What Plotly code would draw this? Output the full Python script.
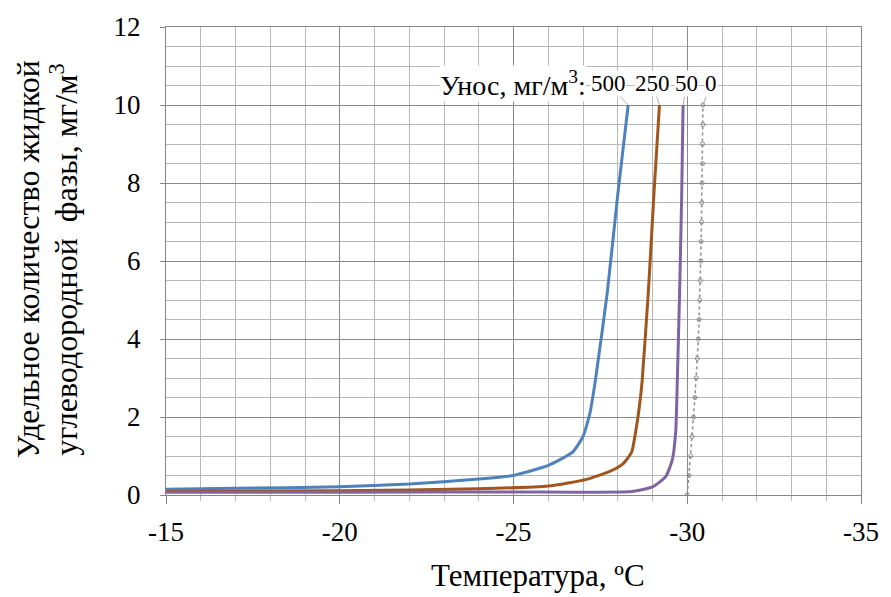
import plotly.graph_objects as go

# Temperature (°C) / specific amount of liquid hydrocarbon phase (mg/m3)
x500 = [-15, -17, -20, -22, -24, -25, -26, -26.7, -27.0, -27.2, -27.35, -27.7, -28.0, -28.3]
y500 = [0.15, 0.17, 0.21, 0.28, 0.41, 0.5, 0.76, 1.1, 1.5, 2.1, 2.9, 5.2, 7.7, 10]

x250 = [-15, -20, -24, -26, -27.1, -27.75, -28.15, -28.4, -28.52, -28.62, -28.7, -28.88, -29.04, -29.2]
y250 = [0.09, 0.11, 0.16, 0.23, 0.4, 0.6, 0.8, 1.1, 1.65, 2.25, 2.9, 5.2, 7.7, 10]

x50 = [-15, -20, -25, -28.4, -29.0, -29.38, -29.57, -29.67, -29.71, -29.78, -29.84, -29.88]
y50 = [0.07, 0.07, 0.08, 0.09, 0.21, 0.47, 0.9, 1.65, 2.8, 5.2, 7.7, 10]

x0 = [-30.0, -30.05, -30.1, -30.14, -30.18, -30.22, -30.26, -30.29, -30.32, -30.34, -30.36,
      -30.38, -30.39, -30.4, -30.41, -30.42, -30.43, -30.44, -30.44, -30.45, -30.45]
y0 = [0, 0.5, 1, 1.5, 2, 2.5, 3, 3.5, 4, 4.5, 5, 5.5, 6, 6.5, 7, 7.5, 8, 8.5, 9, 9.5, 10]

x_ticks = [-15, -20, -25, -30, -35]
x_ticktext = ["-15", "-20", "-25", "-30", "-35"]
y_ticks = [0, 2, 4, 6, 8, 10, 12]

series = [
    ("500", x500, y500, "#4F81BD"),
    ("250", x250, y250, "#A0561C"),
    ("50", x50, y50, "#8064A2"),
]
label_x = {"500": -27.72, "250": -29.0, "50": -29.98, "0": -30.69}
label_y = 10.55

FONT = "Times New Roman, Liberation Serif, Tinos, DejaVu Serif, serif"

fig = go.Figure()
for name, xs, ys, col in series:
    fig.add_trace(go.Scatter(x=xs, y=ys, mode="lines", name=name,
                             line=dict(color=col, width=3, shape="spline", smoothing=0.5)))
fig.add_trace(go.Scatter(x=x0, y=y0, mode="lines+markers", name="0",
                         line=dict(color="#8C8C8C", width=1.5, dash="dot"),
                         marker=dict(symbol="circle-open", size=4, color="#8C8C8C",
                                     line=dict(width=1))))

annotations = [
    dict(x=-24.98, y=label_y, xref="x", yref="y", text="Унос, мг/м<sup>3</sup>:",
         showarrow=False, font=dict(family=FONT, size=28, color="#000"),
         bgcolor="white", xanchor="center", yanchor="middle", borderpad=0),
]
tops = {"500": (x500[-1], y500[-1]), "250": (x250[-1], y250[-1]),
        "50": (x50[-1], y50[-1]), "0": (x0[-1], y0[-1])}
for name in ["500", "250", "50", "0"]:
    px, py = tops[name]
    annotations.append(dict(
        x=px, y=py, xref="x", yref="y", ax=label_x[name], ay=label_y,
        axref="x", ayref="y", text=name, showarrow=True, arrowhead=0,
        arrowwidth=0.8, arrowcolor="#999999", standoff=0,
        font=dict(family=FONT, size=23, color="#000"), bgcolor="white",
        borderpad=0))

annotations.append(dict(
    x=-0.199, y=0.503, xref="paper", yref="paper", textangle=-90,
    text="Удельное количество жидкой",
    showarrow=False, font=dict(family=FONT, size=32, color="#000"),
    xanchor="center", yanchor="middle"))
annotations.append(dict(
    x=-0.148, y=0.503, xref="paper", yref="paper", textangle=-90,
    text="углеводородной  фазы, мг/м<sup>3</sup>",
    showarrow=False, font=dict(family=FONT, size=32, color="#000"),
    xanchor="center", yanchor="middle"))
annotations.append(dict(
    x=0.535, y=-0.173, xref="paper", yref="paper", text="Температура, ºC",
    showarrow=False, font=dict(family=FONT, size=31, color="#000"),
    xanchor="center", yanchor="middle"))

fig.update_layout(
    width=891, height=597,
    margin=dict(l=166, r=24, t=22, b=102),
    paper_bgcolor="white", plot_bgcolor="white",
    showlegend=False,
    font=dict(family=FONT, size=27, color="#000"),
    annotations=annotations,
)
fig.update_xaxes(range=[-15, -35], tickmode="array", tickvals=x_ticks, ticktext=x_ticktext,
                 showgrid=True, gridcolor="#8A8A8A", gridwidth=1,
                 minor=dict(dtick=1, tick0=-15, showgrid=True, gridcolor="#B8B8B8", gridwidth=1,
                            ticks="outside", ticklen=5, tickcolor="#B8B8B8"),
                 showline=True, linecolor="#868686", linewidth=1, mirror=True,
                 ticks="outside", ticklen=8, tickcolor="#868686", ticklabelstandoff=5,
                 zeroline=False, tickfont=dict(family=FONT, size=27, color="#000"))
fig.update_yaxes(range=[0, 12], tickmode="array", tickvals=y_ticks,
                 showgrid=True, gridcolor="#8A8A8A", gridwidth=1,
                 minor=dict(dtick=0.5, tick0=0, showgrid=True, gridcolor="#B8B8B8", gridwidth=1),
                 showline=True, linecolor="#868686", linewidth=1, mirror=True,
                 ticks="outside", ticklen=5, tickcolor="#868686", ticklabelstandoff=14,
                 zeroline=False, tickfont=dict(family=FONT, size=27, color="#000"))

fig.write_html("out.html")
